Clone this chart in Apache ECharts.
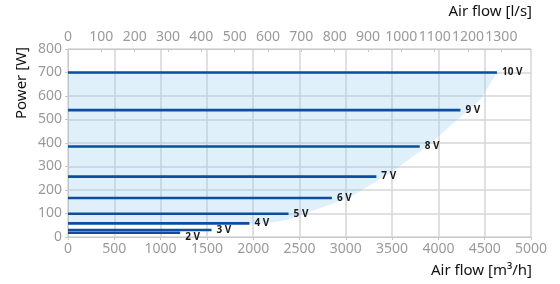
<!DOCTYPE html>
<html>
<head>
<meta charset="utf-8">
<script src="https://cdn.jsdelivr.net/npm/echarts@6/dist/echarts.min.js"></script>
<style>html,body{margin:0;padding:0;background:#fff}#c{width:560px;height:284px}</style>
</head>
<body>
<div id="c"></div>
<script>
// Air flow ticks (m3/h) and top axis tick labels (l/s)
var flowTicks = [0,500,1000,1500,2000,2500,3000,3500,4000,4500,5000];
var lpsTicks = [0,100,200,300,400,500,600,700,800,900,1000,1100,1200,1300];
var powerTicks = [0,100,200,300,400,500,600,700,800];

// Voltage curves: name, power level [W], max air flow [m3/h]
var curveNames = ['10 V','9 V','8 V','7 V','6 V','5 V','4 V','3 V','2 V'];
var curvePower = [700, 540, 385, 257, 166, 99, 58, 30, 18];
var curveMaxFlow = [4633, 4238, 3798, 3330, 2850, 2382, 1960, 1550, 1211];

// Operating range (shaded area) outline
var rangeFlow  = [0, 4633, 4452, 4322, 4038, 3876, 3480, 3026, 2561, 2363, 2150, 0];
var rangePower = [700, 700, 584, 538, 442, 385, 272, 165, 101, 72, 58, 58];

var FONT = 'Noto Sans';
var plain = function (v) { return String(Math.round(v)); };
var chart = echarts.init(document.getElementById('c'), null, {renderer:'canvas'});

var series = [{
  type: 'custom',
  xAxisIndex: 0, yAxisIndex: 0,
  silent: true,
  z: 1,
  data: [0],
  renderItem: function (params, api) {
    var pts = rangeFlow.map(function (f, i) { return api.coord([f, rangePower[i]]); });
    return { type: 'polygon', shape: { points: pts }, style: { fill: 'rgba(148,205,242,0.3)' } };
  }
}];

curveNames.forEach(function (n, i) {
  series.push({
    type: 'line',
    name: n,
    xAxisIndex: 0, yAxisIndex: 0,
    data: [[0, curvePower[i]], [curveMaxFlow[i], curvePower[i]]],
    symbol: 'none',
    lineStyle: { color: '#0b4ea2', width: 2.6 },
    z: 3,
    endLabel: {
      show: true,
      formatter: n,
      distance: 5,
      offset: n === '2 V' ? [0, 4] : [0, 0],
      fontFamily: FONT, fontSize: 10, fontWeight: 'bold', color: '#1a1a1a'
    },
    animation: false
  });
});

chart.setOption({
  animation: false,
  grid: { left: 68, right: 29, top: 49, bottom: 47, containLabel: false },
  xAxis: [{
    type: 'value', position: 'bottom',
    min: 0, max: 5000, interval: 500,
    axisLine: { show: true, lineStyle: { color: '#c8c8c8', width: 1 } },
    axisTick: { show: true, length: 3, lineStyle: { color: '#c8c8c8' } },
    axisLabel: { color: '#9a9a9a', fontFamily: FONT, fontSize: 14, margin: 5, formatter: plain },
    splitLine: { show: true, lineStyle: { color: '#d6d6d6', width: 1.5 } }
  }, {
    type: 'value', position: 'top',
    min: 0, max: 5000 / 3.6,
    axisLine: { show: true, lineStyle: { color: '#c8c8c8', width: 1 } },
    axisTick: { show: true, length: 3, inside: true, customValues: lpsTicks, lineStyle: { color: '#c8c8c8' } },
    axisLabel: { color: '#9a9a9a', fontFamily: FONT, fontSize: 14, margin: 5, customValues: lpsTicks,
      formatter: plain, hideOverlap: false, showMaxLabel: true, showMinLabel: true },
    splitLine: { show: false }
  }],
  yAxis: [{
    type: 'value', min: 0, max: 800, interval: 100,
    axisLine: { show: true, lineStyle: { color: '#c8c8c8', width: 1 } },
    axisTick: { show: true, length: 3, lineStyle: { color: '#c8c8c8' } },
    axisLabel: { color: '#9a9a9a', fontFamily: FONT, fontSize: 14, margin: 6, formatter: plain },
    splitLine: { show: true, lineStyle: { color: '#d6d6d6', width: 1.5 } }
  }],
  graphic: [
    { type: 'text', right: 28, top: 4, style: { text: 'Air flow [l/s]', fontFamily: FONT, fontSize: 15, fill: '#111' } },
    { type: 'text', right: 28, top: 263, style: { text: 'Air flow [m³/h]', fontFamily: FONT, fontSize: 15, fill: '#111' } },
    { type: 'text', x: 14, y: 83, rotation: Math.PI / 2,
      style: { text: 'Power [W]', fontFamily: FONT, fontSize: 15, fill: '#111', align: 'center', verticalAlign: 'top' } }
  ],
  series: series
});
</script>
</body>
</html>
